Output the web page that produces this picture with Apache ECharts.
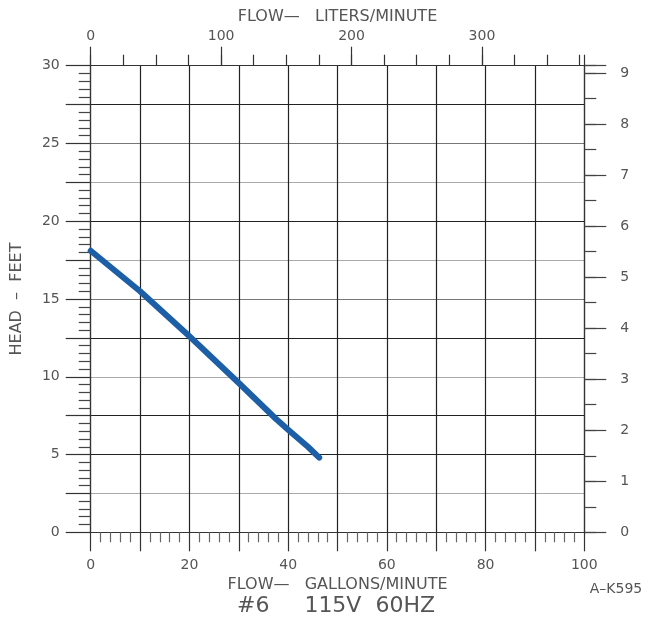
<!DOCTYPE html>
<html>
<head>
<meta charset="utf-8">
<script src="https://cdn.jsdelivr.net/npm/echarts@6/dist/echarts.min.js"></script>
<style>
html,body{margin:0;padding:0;background:#fff;}
#chart{width:652px;height:621px;}
</style>
</head>
<body>
<div id="chart"></div>
<script>
// ---- data ----
const flowGpm = [0, 10, 20, 30, 37.5, 40, 44, 46.3];
const headFt  = [18.1, 15.5, 12.6, 9.6, 7.3, 6.6, 5.5, 4.8];

const gpmTicks = [0, 20, 40, 60, 80, 100];
const headTicks = [0, 5, 10, 15, 20, 25, 30];
const literTicks = [0, 100, 200, 300];
const meterTicks = [0, 1, 2, 3, 4, 5, 6, 7, 8, 9];

const GPM_MAX = 100;
const FT_MAX = 30;
const L_PER_GAL = 3.785;
const FT_PER_M = 3.2808;

const titleText = '#6     115V  60HZ';
const codeText = 'A\u2013K595';
const bottomName = 'FLOW\u2014   GALLONS/MINUTE';
const topName = 'FLOW\u2014   LITERS/MINUTE';
const leftName = 'HEAD  \u2013  FEET';

// horizontal grid line shades (from 0 up to 30, every 2.5 ft)
const hLineColors = ['#222','#aaa','#222','#222','#aaa','#222','#777','#aaa','#222','#aaa','#777','#222','#222'];

const FONT = "'DejaVu Sans', 'Liberation Sans', sans-serif";
const TXT = '#555';

const chart = echarts.init(document.getElementById('chart'), null, {renderer:'canvas'});
const curve = flowGpm.map((x, i) => [x, headFt[i]]);
const inList = (list) => (v) => list.some(t => Math.abs(t - v) < 1e-6) ? String(v) : '';

const option = {
  backgroundColor: '#fff',
  animation: false,
  grid: { left: 90.7, right: 67.7, top: 65.7, bottom: 88.7, containLabel: false },
  xAxis: [
    {
      type: 'value', position: 'bottom', min: 0, max: GPM_MAX, interval: 10,
      axisLine: { show: true, onZero: false, lineStyle: { color: '#333', width: 1.2 } },
      axisTick: { show: true, length: 19, lineStyle: { color: '#333', width: 1.2 } },
      minorTick: { show: true, splitNumber: 5, length: 10, lineStyle: { color: '#666', width: 1.2 } },
      axisLabel: { formatter: inList(gpmTicks), margin: 26, fontSize: 14, color: TXT, fontFamily: FONT },
      splitLine: { show: true, lineStyle: { color: '#222', width: 1.2 } },
      name: bottomName, nameLocation: 'middle', nameGap: 41,
      nameTextStyle: { fontSize: 16, color: TXT, fontFamily: FONT }
    },
    {
      type: 'value', position: 'top', min: 0, max: GPM_MAX * L_PER_GAL, interval: 100,
      axisLine: { show: true, onZero: false, lineStyle: { color: '#333', width: 1.2 } },
      axisTick: { show: true, length: 19, customValues: literTicks, lineStyle: { color: '#333', width: 1.2 } },
      axisLabel: { formatter: inList(literTicks), margin: 22, fontSize: 14, color: TXT, fontFamily: FONT },
      splitLine: { show: false },
      name: topName, nameLocation: 'middle', nameGap: 41,
      nameTextStyle: { fontSize: 16, color: TXT, fontFamily: FONT }
    },
    {
      type: 'value', position: 'top', min: 0, max: GPM_MAX * L_PER_GAL, interval: 25,
      axisLine: { show: false, onZero: false },
      axisTick: { show: true, length: 11, lineStyle: { color: '#333', width: 1.2 } },
      axisLabel: { show: false },
      splitLine: { show: false }
    }
  ],
  yAxis: [
    {
      type: 'value', position: 'left', min: 0, max: FT_MAX, interval: 2.5,
      axisLine: { show: true, onZero: false, lineStyle: { color: '#333', width: 1.2 } },
      axisTick: { show: true, length: 25, lineStyle: { color: '#333', width: 1.2 } },
      minorTick: { show: true, splitNumber: 5, length: 12, lineStyle: { color: '#444', width: 1.2 } },
      axisLabel: { formatter: inList(headTicks), margin: 31, fontSize: 14, color: TXT, fontFamily: FONT },
      splitLine: { show: true, lineStyle: { color: hLineColors, width: 1.2 } },
      name: leftName, nameLocation: 'middle', nameGap: 66,
      nameTextStyle: { fontSize: 16, color: TXT, fontFamily: FONT }
    },
    {
      type: 'value', position: 'right', min: 0, max: FT_MAX / FT_PER_M, interval: 1,
      axisLine: { show: true, onZero: false, lineStyle: { color: '#333', width: 1.2 } },
      axisTick: { show: true, length: 22, lineStyle: { color: '#444', width: 1.2 } },
      axisLabel: { formatter: inList(meterTicks), margin: 36, fontSize: 14, color: TXT, fontFamily: FONT },
      splitLine: { show: false }
    },
    {
      type: 'value', position: 'right', min: 0, max: FT_MAX / FT_PER_M, interval: 0.5,
      axisLine: { show: false, onZero: false },
      axisTick: { show: true, length: 12, lineStyle: { color: '#444', width: 1.2 } },
      axisLabel: { show: false },
      splitLine: { show: false }
    }
  ],
  graphic: [
    { type: 'text', x: 336, y: 606, style: { text: titleText, fill: TXT, font: "22px " + FONT, textAlign: 'center', textVerticalAlign: 'middle' } },
    { type: 'text', x: 616, y: 589, style: { text: codeText, fill: TXT, font: "14px " + FONT, textAlign: 'center', textVerticalAlign: 'middle' } }
  ],
  series: [
    {
      type: 'line', xAxisIndex: 0, yAxisIndex: 0, data: curve,
      showSymbol: false, symbol: 'none', smooth: false,
      lineStyle: { color: '#1d5fa6', width: 6, cap: 'round', join: 'round' },
      z: 5
    }
  ]
};
chart.setOption(option);
</script>
</body>
</html>
